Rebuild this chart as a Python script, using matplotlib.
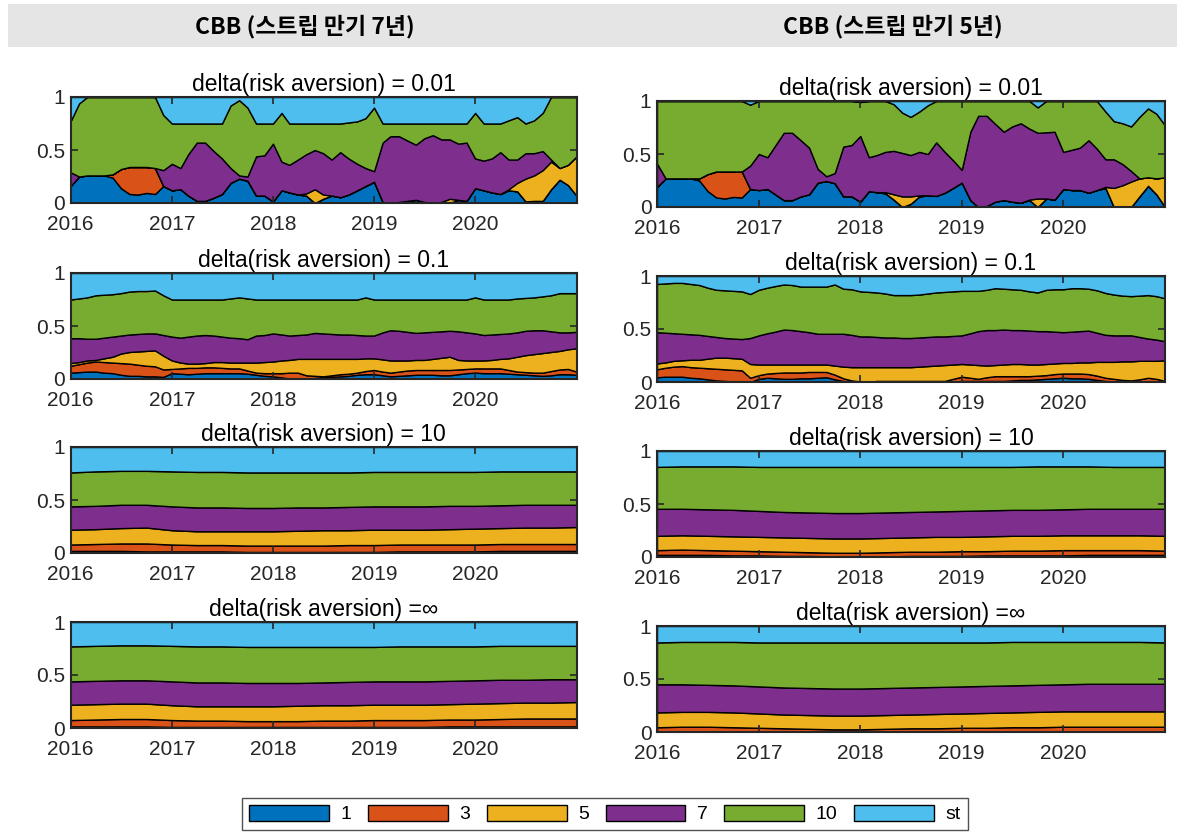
import numpy as np
import pandas as pd
import matplotlib
matplotlib.use("Agg")
import matplotlib.pyplot as plt
from matplotlib.patches import Rectangle, Patch

plt.rcParams['font.family'] = ['Liberation Sans', 'DejaVu Sans']

W, H = 1177, 832

# 날짜축 (월별 / 분기별)
months = pd.date_range("2016-01-01", "2021-01-01", freq="MS")
quarters = pd.date_range("2016-01-01", "2021-01-01", freq="QS")
years = [2016, 2017, 2018, 2019, 2020]

labels = ["1", "3", "5", "7", "10", "st"]
colors = ["#0072BD", "#D95319", "#EDB120", "#7E2F8E", "#77AC30", "#4DBEEE"]

# ---- 누적 비중 (각 만기 구간의 상단), st 는 나머지 1 까지 ----
# 스트립 만기 7년, delta = 0.01 (월별)
m7_d001_top1 = [0.16, 0.25, 0.26, 0.26, 0.26, 0.24, 0.14, 0.085, 0.08, 0.095,
                0.085, 0.16, 0.12, 0.13, 0.07, 0.02, 0.02, 0.05, 0.085, 0.19,
                0.23, 0.21, 0.07, 0.07, 0.015, 0.12, 0.10, 0.08, 0.07, 0.0,
                0.04, 0.07, 0.055, 0.08, 0.12, 0.16, 0.20, 0.01, 0.0, 0.01,
                0.02, 0.03, 0.01, 0.0, 0.01, 0.0, 0.03, 0.02, 0.14, 0.12,
                0.10, 0.085, 0.12, 0.11, 0.015, 0.02, 0.02, 0.13, 0.22, 0.17,
                0.07]
m7_d001_top3 = [0.16, 0.25, 0.26, 0.26, 0.26, 0.27, 0.32, 0.34, 0.34, 0.34,
                0.33, 0.16, 0.12, 0.13, 0.07, 0.02, 0.02, 0.05, 0.085, 0.19,
                0.23, 0.21, 0.07, 0.07, 0.015, 0.12, 0.10, 0.08, 0.07, 0.0,
                0.04, 0.07, 0.055, 0.08, 0.12, 0.16, 0.20, 0.01, 0.0, 0.01,
                0.02, 0.03, 0.01, 0.0, 0.01, 0.0, 0.03, 0.02, 0.14, 0.12,
                0.10, 0.085, 0.12, 0.11, 0.015, 0.02, 0.02, 0.13, 0.22, 0.17,
                0.07]
m7_d001_top5 = [0.16, 0.25, 0.26, 0.26, 0.26, 0.27, 0.32, 0.34, 0.34, 0.34,
                0.33, 0.16, 0.12, 0.13, 0.07, 0.02, 0.02, 0.05, 0.085, 0.19,
                0.23, 0.21, 0.07, 0.07, 0.015, 0.12, 0.10, 0.08, 0.09, 0.13,
                0.08, 0.07, 0.055, 0.08, 0.12, 0.16, 0.20, 0.01, 0.0, 0.01,
                0.02, 0.03, 0.01, 0.0, 0.01, 0.04, 0.03, 0.02, 0.14, 0.12,
                0.10, 0.085, 0.13, 0.19, 0.23, 0.26, 0.31, 0.39, 0.33, 0.36,
                0.44]
m7_d001_top7 = [0.29, 0.25, 0.26, 0.26, 0.26, 0.27, 0.32, 0.34, 0.34, 0.34,
                0.33, 0.31, 0.37, 0.33, 0.46, 0.57, 0.57, 0.49, 0.42, 0.33,
                0.26, 0.25, 0.44, 0.45, 0.56, 0.39, 0.36, 0.41, 0.46, 0.50,
                0.47, 0.41, 0.48, 0.42, 0.37, 0.33, 0.30, 0.57, 0.63, 0.63,
                0.59, 0.55, 0.61, 0.64, 0.60, 0.60, 0.56, 0.57, 0.42, 0.40,
                0.42, 0.48, 0.41, 0.41, 0.47, 0.47, 0.49, 0.41, 0.33, 0.36,
                0.44]
m7_d001_top10 = [0.77, 0.94, 1.0, 1.0, 1.0, 1.0, 1.0, 1.0, 1.0, 1.0,
                 1.0, 0.83, 0.75, 0.75, 0.75, 0.75, 0.75, 0.75, 0.75, 0.92,
                 0.97, 0.90, 0.75, 0.75, 0.75, 0.85, 0.75, 0.75, 0.75, 0.75,
                 0.75, 0.75, 0.75, 0.76, 0.77, 0.80, 0.90, 0.75, 0.75, 0.75,
                 0.75, 0.75, 0.75, 0.75, 0.75, 0.75, 0.75, 0.75, 0.85, 0.75,
                 0.75, 0.75, 0.78, 0.81, 0.75, 0.78, 0.85, 1.0, 1.0, 1.0,
                 1.0]

# 스트립 만기 5년, delta = 0.01 (월별)
m5_d001_top1 = [0.19, 0.27, 0.27, 0.27, 0.27, 0.25, 0.15, 0.09, 0.08, 0.095,
                0.09, 0.17, 0.16, 0.17, 0.12, 0.065, 0.065, 0.10, 0.12, 0.23,
                0.245, 0.225, 0.10, 0.10, 0.05, 0.15, 0.14, 0.13, 0.07, 0.0,
                0.03, 0.10, 0.11, 0.105, 0.135, 0.18, 0.23, 0.065, 0.0, 0.01,
                0.05, 0.065, 0.05, 0.04, 0.065, 0.0, 0.08, 0.07, 0.17, 0.16,
                0.16, 0.135, 0.16, 0.18, 0.0, 0.0, 0.0, 0.10, 0.20, 0.12,
                0.0]
m5_d001_top3 = [0.19, 0.27, 0.27, 0.27, 0.27, 0.27, 0.31, 0.335, 0.335, 0.335,
                0.335, 0.17, 0.16, 0.17, 0.12, 0.065, 0.065, 0.10, 0.12, 0.23,
                0.245, 0.225, 0.10, 0.10, 0.05, 0.15, 0.14, 0.13, 0.07, 0.0,
                0.03, 0.10, 0.11, 0.105, 0.135, 0.18, 0.23, 0.065, 0.0, 0.01,
                0.05, 0.065, 0.05, 0.04, 0.065, 0.0, 0.08, 0.07, 0.17, 0.16,
                0.16, 0.135, 0.16, 0.18, 0.0, 0.0, 0.0, 0.10, 0.20, 0.12,
                0.0]
m5_d001_top5 = [0.19, 0.27, 0.27, 0.27, 0.27, 0.27, 0.31, 0.335, 0.335, 0.335,
                0.335, 0.17, 0.16, 0.17, 0.12, 0.065, 0.065, 0.10, 0.12, 0.23,
                0.245, 0.225, 0.10, 0.10, 0.05, 0.15, 0.14, 0.14, 0.12, 0.10,
                0.10, 0.11, 0.11, 0.105, 0.135, 0.18, 0.23, 0.065, 0.0, 0.01,
                0.05, 0.065, 0.05, 0.04, 0.07, 0.08, 0.08, 0.07, 0.17, 0.16,
                0.16, 0.135, 0.16, 0.19, 0.18, 0.205, 0.24, 0.27, 0.28, 0.27,
                0.28]
m5_d001_top7 = [0.41, 0.27, 0.27, 0.27, 0.27, 0.27, 0.31, 0.335, 0.335, 0.335,
                0.335, 0.39, 0.50, 0.47, 0.58, 0.70, 0.70, 0.63, 0.56, 0.36,
                0.29, 0.32, 0.57, 0.585, 0.67, 0.47, 0.49, 0.52, 0.53, 0.51,
                0.49, 0.52, 0.50, 0.61, 0.52, 0.44, 0.35, 0.71, 0.86, 0.86,
                0.785, 0.71, 0.76, 0.79, 0.74, 0.70, 0.705, 0.71, 0.52, 0.54,
                0.56, 0.63, 0.55, 0.45, 0.45, 0.405, 0.34, 0.27, 0.28, 0.27,
                0.28]
m5_d001_top10 = [1.0, 1.0, 1.0, 1.0, 1.0, 1.0, 1.0, 1.0, 1.0, 1.0,
                 1.0, 0.965, 1.0, 1.0, 1.0, 1.0, 1.0, 1.0, 1.0, 1.0,
                 1.0, 1.0, 1.0, 1.0, 0.99, 1.0, 1.0, 1.0, 0.97, 0.89,
                 0.85, 0.90, 0.96, 1.0, 1.0, 1.0, 1.0, 1.0, 1.0, 1.0,
                 1.0, 1.0, 1.0, 1.0, 1.0, 0.94, 1.0, 1.0, 1.0, 1.0,
                 1.0, 1.0, 1.0, 0.90, 0.81, 0.79, 0.76, 0.85, 0.93, 0.88,
                 0.77]

# 스트립 만기 7년, delta = 0.1 (월별)
m7_d01_top1 = [0.06, 0.065, 0.07, 0.07, 0.06, 0.055, 0.04, 0.03, 0.03, 0.025,
               0.025, 0.02, 0.055, 0.05, 0.045, 0.05, 0.055, 0.055, 0.055, 0.055,
               0.055, 0.05, 0.04, 0.03, 0.025, 0.015, 0.005, 0.0, 0.005, 0.01,
               0.015, 0.02, 0.025, 0.03, 0.04, 0.045, 0.045, 0.035, 0.025, 0.03,
               0.035, 0.04, 0.04, 0.04, 0.035, 0.035, 0.045, 0.055, 0.06, 0.055,
               0.055, 0.055, 0.05, 0.045, 0.04, 0.035, 0.03, 0.035, 0.045, 0.045,
               0.04]
m7_d01_top3 = [0.125, 0.14, 0.155, 0.165, 0.16, 0.155, 0.15, 0.145, 0.135, 0.125,
               0.12, 0.09, 0.095, 0.10, 0.105, 0.105, 0.11, 0.11, 0.105, 0.10,
               0.10, 0.08, 0.06, 0.055, 0.055, 0.055, 0.06, 0.06, 0.035, 0.03,
               0.025, 0.035, 0.045, 0.05, 0.06, 0.075, 0.085, 0.07, 0.06, 0.07,
               0.08, 0.085, 0.085, 0.085, 0.085, 0.085, 0.09, 0.095, 0.10, 0.10,
               0.10, 0.10, 0.085, 0.07, 0.065, 0.06, 0.06, 0.075, 0.09, 0.095,
               0.07]
m7_d01_top5 = [0.15, 0.16, 0.175, 0.18, 0.195, 0.21, 0.24, 0.255, 0.26, 0.265,
               0.27, 0.22, 0.175, 0.155, 0.145, 0.145, 0.15, 0.16, 0.16, 0.155,
               0.155, 0.155, 0.155, 0.16, 0.165, 0.175, 0.18, 0.19, 0.19, 0.19,
               0.19, 0.19, 0.19, 0.19, 0.19, 0.195, 0.195, 0.185, 0.175, 0.175,
               0.175, 0.18, 0.18, 0.19, 0.20, 0.21, 0.18, 0.175, 0.175, 0.175,
               0.18, 0.19, 0.195, 0.21, 0.225, 0.235, 0.245, 0.255, 0.265, 0.28,
               0.29]
m7_d01_top7 = [0.385, 0.385, 0.38, 0.38, 0.39, 0.40, 0.41, 0.42, 0.425, 0.43,
               0.43, 0.415, 0.40, 0.39, 0.40, 0.41, 0.415, 0.41, 0.40, 0.39,
               0.385, 0.375, 0.41, 0.415, 0.43, 0.42, 0.41, 0.415, 0.42, 0.435,
               0.43, 0.425, 0.42, 0.42, 0.415, 0.41, 0.41, 0.44, 0.46, 0.455,
               0.445, 0.435, 0.44, 0.445, 0.45, 0.455, 0.45, 0.44, 0.43, 0.415,
               0.42, 0.425, 0.43, 0.44, 0.455, 0.46, 0.46, 0.45, 0.44, 0.44,
               0.445]
m7_d01_top10 = [0.75, 0.76, 0.77, 0.79, 0.795, 0.80, 0.81, 0.825, 0.83, 0.83,
                0.835, 0.79, 0.75, 0.75, 0.75, 0.75, 0.75, 0.75, 0.75, 0.76,
                0.77, 0.76, 0.75, 0.75, 0.75, 0.75, 0.75, 0.75, 0.75, 0.75,
                0.75, 0.75, 0.75, 0.75, 0.75, 0.77, 0.75, 0.75, 0.75, 0.75,
                0.75, 0.75, 0.75, 0.75, 0.75, 0.75, 0.75, 0.75, 0.77, 0.75,
                0.75, 0.75, 0.75, 0.76, 0.765, 0.77, 0.78, 0.79, 0.81, 0.81,
                0.81]

# 스트립 만기 5년, delta = 0.1 (월별)
m5_d01_top1 = [0.045, 0.05, 0.05, 0.05, 0.04, 0.035, 0.025, 0.015, 0.01, 0.005,
               0.0, 0.0, 0.03, 0.04, 0.035, 0.03, 0.03, 0.035, 0.035, 0.04,
               0.045, 0.025, 0.01, 0.005, 0.0, 0.0, 0.0, 0.0, 0.0, 0.0,
               0.0, 0.0, 0.0, 0.0, 0.0, 0.0, 0.01, 0.01, 0.01, 0.01,
               0.01, 0.01, 0.015, 0.02, 0.02, 0.025, 0.03, 0.035, 0.04, 0.035,
               0.035, 0.03, 0.02, 0.01, 0.005, 0.0, 0.0, 0.0, 0.0, 0.0,
               0.0]
m5_d01_top3 = [0.12, 0.135, 0.145, 0.15, 0.14, 0.135, 0.13, 0.125, 0.12, 0.115,
               0.11, 0.04, 0.065, 0.08, 0.085, 0.09, 0.09, 0.09, 0.095, 0.095,
               0.095, 0.07, 0.035, 0.015, 0.005, 0.0, 0.01, 0.01, 0.01, 0.01,
               0.01, 0.01, 0.01, 0.01, 0.01, 0.03, 0.05, 0.04, 0.03, 0.045,
               0.055, 0.055, 0.055, 0.055, 0.055, 0.06, 0.065, 0.075, 0.08, 0.08,
               0.08, 0.075, 0.06, 0.04, 0.03, 0.02, 0.015, 0.025, 0.04, 0.03,
               0.01]
m5_d01_top5 = [0.175, 0.185, 0.20, 0.205, 0.21, 0.21, 0.22, 0.23, 0.23, 0.225,
               0.22, 0.17, 0.165, 0.165, 0.165, 0.165, 0.165, 0.165, 0.165, 0.165,
               0.165, 0.155, 0.145, 0.14, 0.14, 0.14, 0.14, 0.14, 0.14, 0.14,
               0.14, 0.145, 0.15, 0.155, 0.16, 0.165, 0.17, 0.165, 0.16, 0.155,
               0.16, 0.165, 0.17, 0.17, 0.165, 0.165, 0.17, 0.175, 0.18, 0.18,
               0.185, 0.185, 0.19, 0.19, 0.19, 0.195, 0.195, 0.20, 0.20, 0.20,
               0.205]
m5_d01_top7 = [0.47, 0.465, 0.46, 0.455, 0.45, 0.445, 0.435, 0.425, 0.415, 0.41,
               0.405, 0.415, 0.44, 0.46, 0.475, 0.495, 0.49, 0.48, 0.47, 0.455,
               0.455, 0.455, 0.455, 0.445, 0.43, 0.43, 0.425, 0.42, 0.42, 0.415,
               0.415, 0.42, 0.425, 0.43, 0.43, 0.435, 0.44, 0.46, 0.48, 0.49,
               0.49, 0.495, 0.49, 0.49, 0.485, 0.48, 0.48, 0.475, 0.47, 0.475,
               0.48, 0.485, 0.465, 0.445, 0.44, 0.44, 0.44, 0.425, 0.41, 0.40,
               0.385]
m5_d01_top10 = [0.925, 0.93, 0.935, 0.935, 0.925, 0.915, 0.89, 0.87, 0.865, 0.86,
                0.855, 0.83, 0.87, 0.89, 0.905, 0.92, 0.915, 0.90, 0.90, 0.90,
                0.90, 0.92, 0.88, 0.875, 0.855, 0.85, 0.845, 0.835, 0.82, 0.82,
                0.82, 0.825, 0.835, 0.845, 0.85, 0.855, 0.86, 0.86, 0.86, 0.87,
                0.885, 0.88, 0.875, 0.87, 0.855, 0.845, 0.87, 0.875, 0.875, 0.885,
                0.885, 0.88, 0.865, 0.84, 0.825, 0.815, 0.81, 0.815, 0.82, 0.81,
                0.79]

# 스트립 만기 7년, delta = 10 (분기별)
m7_d10_top1 = [0.02, 0.02, 0.02, 0.015, 0.015, 0.015, 0.015, 0.01, 0.01, 0.01, 0.01,
               0.01, 0.01, 0.015, 0.015, 0.015, 0.015, 0.02, 0.02, 0.02, 0.02]
m7_d10_top3 = [0.08, 0.085, 0.09, 0.09, 0.08, 0.075, 0.075, 0.07, 0.07, 0.07, 0.07,
               0.075, 0.075, 0.08, 0.08, 0.08, 0.08, 0.085, 0.085, 0.085, 0.085]
m7_d10_top5 = [0.22, 0.225, 0.235, 0.24, 0.215, 0.205, 0.205, 0.205, 0.205, 0.21, 0.215,
               0.215, 0.22, 0.22, 0.22, 0.225, 0.23, 0.235, 0.24, 0.24, 0.245]
m7_d10_top7 = [0.44, 0.445, 0.455, 0.455, 0.44, 0.43, 0.43, 0.425, 0.425, 0.43, 0.43,
               0.435, 0.44, 0.44, 0.44, 0.445, 0.445, 0.45, 0.455, 0.455, 0.455]
m7_d10_top10 = [0.76, 0.77, 0.775, 0.775, 0.77, 0.765, 0.765, 0.76, 0.76, 0.76, 0.76,
                0.76, 0.765, 0.765, 0.765, 0.765, 0.765, 0.77, 0.77, 0.77, 0.77]

# 스트립 만기 5년, delta = 10 (분기별)
m5_d10_top1 = [0.02, 0.02, 0.02, 0.015, 0.015, 0.01, 0.01, 0.005, 0.005, 0.005, 0.01,
               0.01, 0.01, 0.015, 0.015, 0.015, 0.015, 0.02, 0.02, 0.02, 0.02]
m5_d10_top3 = [0.065, 0.07, 0.065, 0.06, 0.055, 0.05, 0.045, 0.04, 0.04, 0.045, 0.05,
               0.05, 0.055, 0.055, 0.06, 0.06, 0.065, 0.065, 0.065, 0.065, 0.06]
m5_d10_top5 = [0.20, 0.205, 0.20, 0.195, 0.19, 0.185, 0.18, 0.175, 0.175, 0.18, 0.185,
               0.19, 0.19, 0.195, 0.20, 0.20, 0.205, 0.205, 0.205, 0.205, 0.20]
m5_d10_top7 = [0.455, 0.455, 0.45, 0.445, 0.435, 0.425, 0.42, 0.415, 0.415, 0.42, 0.425,
               0.43, 0.435, 0.44, 0.445, 0.445, 0.45, 0.455, 0.455, 0.455, 0.455]
m5_d10_top10 = [0.85, 0.855, 0.855, 0.855, 0.85, 0.85, 0.85, 0.85, 0.85, 0.85, 0.85,
                0.85, 0.85, 0.85, 0.85, 0.855, 0.855, 0.855, 0.85, 0.85, 0.85]

# 스트립 만기 7년, delta = inf (분기별)
m7_dinf_top1 = [0.015, 0.015, 0.015, 0.015, 0.01, 0.01, 0.01, 0.01, 0.01, 0.01, 0.01,
                0.01, 0.01, 0.01, 0.01, 0.015, 0.015, 0.015, 0.015, 0.015, 0.015]
m7_dinf_top3 = [0.075, 0.08, 0.085, 0.085, 0.075, 0.07, 0.07, 0.065, 0.065, 0.065, 0.07,
                0.07, 0.075, 0.075, 0.075, 0.08, 0.08, 0.085, 0.09, 0.09, 0.09]
m7_dinf_top5 = [0.22, 0.225, 0.23, 0.23, 0.215, 0.205, 0.205, 0.205, 0.205, 0.21, 0.215,
                0.215, 0.22, 0.22, 0.22, 0.225, 0.23, 0.235, 0.24, 0.24, 0.245]
m7_dinf_top7 = [0.44, 0.445, 0.45, 0.45, 0.44, 0.43, 0.43, 0.425, 0.425, 0.425, 0.43,
                0.435, 0.44, 0.44, 0.44, 0.445, 0.45, 0.455, 0.455, 0.46, 0.46]
m7_dinf_top10 = [0.77, 0.775, 0.78, 0.78, 0.775, 0.77, 0.77, 0.765, 0.765, 0.765, 0.765,
                 0.765, 0.765, 0.77, 0.77, 0.77, 0.77, 0.775, 0.775, 0.775, 0.775]

# 스트립 만기 5년, delta = inf (분기별)
m5_dinf_top1 = [0.005, 0.005, 0.005, 0.005, 0.005, 0.005, 0.005, 0.005, 0.005, 0.005, 0.005,
                0.005, 0.005, 0.005, 0.005, 0.005, 0.005, 0.005, 0.005, 0.005, 0.005]
m5_dinf_top3 = [0.045, 0.05, 0.05, 0.045, 0.04, 0.035, 0.03, 0.025, 0.025, 0.03, 0.035,
                0.035, 0.04, 0.04, 0.045, 0.045, 0.05, 0.05, 0.05, 0.05, 0.05]
m5_dinf_top5 = [0.185, 0.19, 0.19, 0.185, 0.175, 0.165, 0.16, 0.155, 0.155, 0.16, 0.165,
                0.17, 0.175, 0.18, 0.185, 0.19, 0.195, 0.195, 0.195, 0.195, 0.195]
m5_dinf_top7 = [0.45, 0.45, 0.445, 0.44, 0.43, 0.42, 0.415, 0.41, 0.41, 0.415, 0.42,
                0.425, 0.43, 0.435, 0.44, 0.445, 0.45, 0.455, 0.455, 0.455, 0.455]
m5_dinf_top10 = [0.845, 0.85, 0.85, 0.85, 0.845, 0.845, 0.845, 0.845, 0.845, 0.845, 0.845,
                 0.845, 0.845, 0.845, 0.85, 0.85, 0.85, 0.85, 0.85, 0.85, 0.845]

col_titles = ["CBB (스트립 만기 7년)", "CBB (스트립 만기 5년)"]
row_titles = ["delta(risk aversion) = 0.01", "delta(risk aversion) = 0.1",
              "delta(risk aversion) = 10", "delta(risk aversion) =\u221e"]

panels = [
    [(months, [m7_d001_top1, m7_d001_top3, m7_d001_top5, m7_d001_top7, m7_d001_top10]),
     (months, [m5_d001_top1, m5_d001_top3, m5_d001_top5, m5_d001_top7, m5_d001_top10])],
    [(months, [m7_d01_top1, m7_d01_top3, m7_d01_top5, m7_d01_top7, m7_d01_top10]),
     (months, [m5_d01_top1, m5_d01_top3, m5_d01_top5, m5_d01_top7, m5_d01_top10])],
    [(quarters, [m7_d10_top1, m7_d10_top3, m7_d10_top5, m7_d10_top7, m7_d10_top10]),
     (quarters, [m5_d10_top1, m5_d10_top3, m5_d10_top5, m5_d10_top7, m5_d10_top10])],
    [(quarters, [m7_dinf_top1, m7_dinf_top3, m7_dinf_top5, m7_dinf_top7, m7_dinf_top10]),
     (quarters, [m5_dinf_top1, m5_dinf_top3, m5_dinf_top5, m5_dinf_top7, m5_dinf_top10])],
]

# 축 위치 (픽셀)
col_left = [70.5, 657.0]
col_width = [506.0, 508.0]
row_top = [[97, 273, 447, 622], [101, 276, 451, 626]]
ax_h = 106.0


def draw_panel(ax, dates, tops, title):
    tops = np.array(tops, dtype=float)
    n = tops.shape[1]
    bounds = np.vstack([np.zeros(n), tops, np.ones(n)])
    shares = np.diff(bounds, axis=0)
    ax.stackplot(dates, shares, colors=colors, edgecolor="black", linewidth=1.0)
    ax.set_xlim(dates[0], dates[-1])
    ax.set_ylim(0, 1)
    ax.set_yticks([0, 0.5, 1])
    ax.set_yticklabels(["0", "0.5", "1"])
    ax.set_xticks([pd.Timestamp(f"{y}-01-01") for y in years])
    ax.set_xticklabels([str(y) for y in years])
    ax.tick_params(direction="in", length=5, width=1.2, top=True, right=True,
                   labelsize=15, colors="#262626")
    ax.tick_params(axis="x", pad=8.5)
    ax.tick_params(axis="y", pad=4)
    ax.set_axisbelow(False)
    for s in ax.spines.values():
        s.set_linewidth(1.5)
        s.set_color("#262626")
        s.set_zorder(5)
    ax.set_title(title, fontsize=16.5, pad=4, color="black")


fig = plt.figure(figsize=(W / 100, H / 100), dpi=100)

# 상단 회색 머리글
fig.patches.append(Rectangle((8 / W, 1 - 47 / H), (W - 8) / W, 43 / H,
                             transform=fig.transFigure, facecolor="#e5e5e5",
                             edgecolor="none", zorder=0))
for cx, txt in zip([305, 893], col_titles):
    fig.text(cx / W, 1 - 27 / H, txt, ha="center", va="center", fontsize=16.5,
             fontweight="bold", family=["Noto Sans CJK KR", "DejaVu Sans"])

for r in range(4):
    for c in range(2):
        dates, tops = panels[r][c]
        rect = [col_left[c] / W, 1 - (row_top[c][r] + ax_h) / H,
                col_width[c] / W, ax_h / H]
        ax = fig.add_axes(rect)
        draw_panel(ax, dates, tops, row_titles[r])

handles = [Patch(facecolor=col, edgecolor="black", linewidth=1.0) for col in colors]
leg = fig.legend(handles, labels, loc="center", bbox_to_anchor=(605 / W, 1 - 814 / H),
                 ncol=6, fontsize=14, frameon=True, fancybox=False, edgecolor="#262626",
                 handlelength=4.1, handleheight=0.93, handletextpad=0.6,
                 columnspacing=0.85, borderpad=0.35)
leg.get_frame().set_linewidth(1.0)

fig.savefig("out.png", dpi=100)
